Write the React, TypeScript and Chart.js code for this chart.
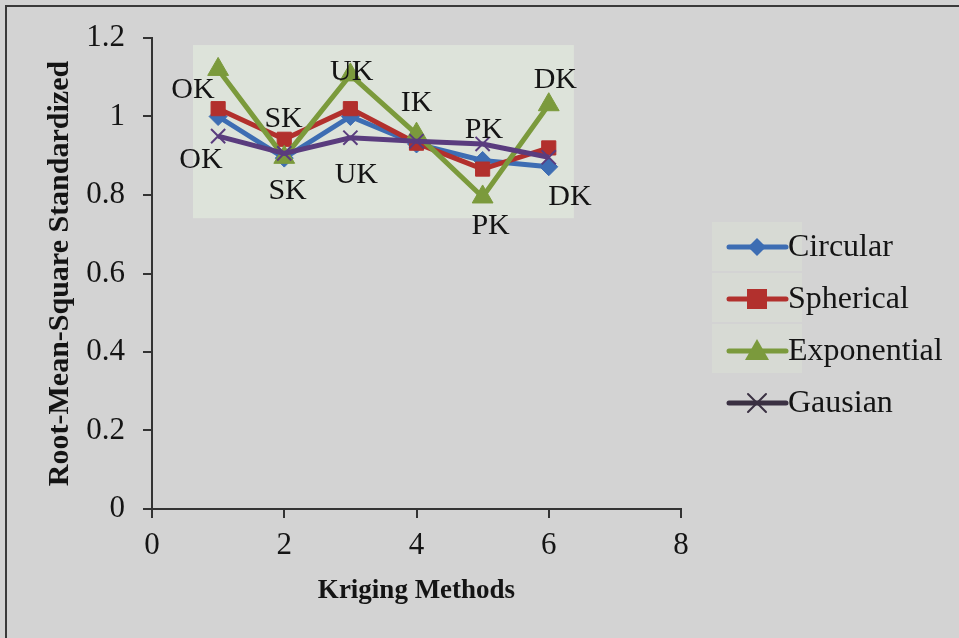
import React, { useEffect, useRef } from "react";
import { Chart, registerables } from "chart.js";

Chart.register(...registerables);

const xValues = [1, 2, 3, 4, 5, 6];
const circular = [1.0, 0.894, 1.0, 0.93, 0.888, 0.872];
const spherical = [1.02, 0.942, 1.02, 0.932, 0.866, 0.92];
const exponential = [1.12, 0.896, 1.106, 0.955, 0.795, 1.03];
const gausian = [0.95, 0.906, 0.946, 0.937, 0.93, 0.896];

const seriesNames = ["Circular", "Spherical", "Exponential", "Gausian"];
const seriesColors = ["#3d6db3", "#b2302d", "#7b9a3c", "#5a3c7e"];
const seriesStyles = ["rectRot", "rect", "triangle", "crossRot"];

const yTicks = [0, 0.2, 0.4, 0.6, 0.8, 1, 1.2];
const xTicks = [0, 2, 4, 6, 8];

const labelTexts = ["OK", "OK", "SK", "SK", "UK", "UK", "IK", "PK", "PK", "DK", "DK"];
const labelXs = [0.62, 0.74, 1.99, 2.05, 3.02, 3.09, 4.0, 5.02, 5.12, 6.1, 6.32];
const labelYs = [1.068, 0.888, 0.993, 0.81, 1.112, 0.85, 1.035, 0.965, 0.72, 1.093, 0.795];

const SERIF = "'Liberation Serif', 'Times New Roman', serif";
const TEXT = "#141414";

function drawMarker(ctx: CanvasRenderingContext2D, style: string, x: number, y: number, color: string) {
  ctx.save();
  ctx.fillStyle = color;
  ctx.strokeStyle = color;
  ctx.beginPath();
  if (style === "rectRot") {
    const r = 9;
    ctx.moveTo(x, y - r); ctx.lineTo(x + r, y); ctx.lineTo(x, y + r); ctx.lineTo(x - r, y); ctx.closePath(); ctx.fill();
  } else if (style === "rect") {
    const r = 10;
    ctx.rect(x - r, y - r, 2 * r, 2 * r); ctx.fill();
  } else if (style === "triangle") {
    const r = 12;
    ctx.moveTo(x, y - r); ctx.lineTo(x + r, y + r * 0.75); ctx.lineTo(x - r, y + r * 0.75); ctx.closePath(); ctx.fill();
  } else {
    const r = 9;
    ctx.lineWidth = 2;
    ctx.moveTo(x - r, y - r); ctx.lineTo(x + r, y + r); ctx.moveTo(x + r, y - r); ctx.lineTo(x - r, y + r); ctx.stroke();
  }
  ctx.restore();
}

const decorPlugin = {
  id: "decor",
  beforeDraw(chart: any) {
    const { ctx, width, height } = chart;
    ctx.save();
    ctx.fillStyle = "#d3d3d3";
    ctx.fillRect(0, 0, width, height);
    ctx.strokeStyle = "#3a3a3a";
    ctx.lineWidth = 2;
    ctx.beginPath();
    ctx.moveTo(6, height);
    ctx.lineTo(6, 6);
    ctx.lineTo(width, 6);
    ctx.stroke();
    // light pasted-image panel behind the lines
    const xs = chart.scales.x;
    const ys = chart.scales.y;
    const x0 = xs.getPixelForValue(0.62);
    const x1 = xs.getPixelForValue(6.38);
    const y0 = ys.getPixelForValue(1.182);
    const y1 = ys.getPixelForValue(0.741);
    ctx.fillStyle = "#dde3da";
    ctx.fillRect(x0, y0, x1 - x0, y1 - y0);
    // faint panels behind legend entries
    ctx.fillStyle = "#d7dad4";
    for (let i = 0; i < 3; i++) {
      ctx.fillRect(712, 222 + i * 51, 90, 49);
    }
    ctx.restore();
  },
  afterDatasetsDraw(chart: any) {
    const { ctx } = chart;
    const xs = chart.scales.x;
    const ys = chart.scales.y;
    ctx.save();
    ctx.fillStyle = TEXT;
    ctx.font = `30px ${SERIF}`;
    ctx.textAlign = "center";
    ctx.textBaseline = "middle";
    labelTexts.forEach((t, i) => {
      ctx.fillText(t, xs.getPixelForValue(labelXs[i]), ys.getPixelForValue(labelYs[i]));
    });
    // legend
    ctx.textAlign = "left";
    ctx.font = `32px ${SERIF}`;
    seriesNames.forEach((name, i) => {
      const y = 247 + i * 52;
      const c = i === 3 ? "#3a3042" : seriesColors[i];
      ctx.strokeStyle = c;
      ctx.lineWidth = 5;
      ctx.lineCap = "round";
      ctx.beginPath();
      ctx.moveTo(729, y);
      ctx.lineTo(786, y);
      ctx.stroke();
      drawMarker(ctx, seriesStyles[i], 757, y, c);
      ctx.fillStyle = TEXT;
      ctx.fillText(name, 788, y + 1);
    });
    ctx.restore();
  },
};

export default function App() {
  const canvasRef = useRef<HTMLCanvasElement | null>(null);

  useEffect(() => {
    if (!canvasRef.current) return;
    const seriesData = [circular, spherical, exponential, gausian];
    const chart = new Chart(canvasRef.current, {
      type: "scatter",
      data: {
        datasets: seriesNames.map((name, i) => ({
          label: name,
          data: xValues.map((x, j) => ({ x, y: seriesData[i][j] })),
          showLine: true,
          borderColor: seriesColors[i],
          backgroundColor: seriesColors[i],
          borderWidth: 5,
          pointStyle: seriesStyles[i] as any,
          pointRadius: i === 0 ? 9 : i === 1 ? 10 : i === 2 ? 12 : 10,
          pointBorderWidth: i === 3 ? 2 : 1,
          order: 4 - i,
        })),
      },
      options: {
        animation: false,
        responsive: false,
        maintainAspectRatio: false,
        layout: { padding: { left: 0, right: 278, top: 38, bottom: 0 } },
        plugins: { legend: { display: false }, tooltip: { enabled: false } },
        scales: {
          x: {
            type: "linear",
            min: 0,
            max: 8,
            afterFit: (s: any) => { s.height = 129; },
            afterBuildTicks: (s: any) => { s.ticks = xTicks.map((v) => ({ value: v })); },
            ticks: { color: TEXT, font: { family: SERIF, size: 31 }, padding: 9 },
            grid: { display: true, drawOnChartArea: false, drawTicks: true, tickLength: 9, color: "#333", lineWidth: 2 },
            border: { display: true, color: "#333", width: 2 },
            title: { display: true, text: "Kriging Methods", color: TEXT, font: { family: SERIF, size: 27, weight: "bold" }, padding: { top: 0, bottom: 31 } },
          },
          y: {
            type: "linear",
            min: 0,
            max: 1.2,
            afterFit: (s: any) => { s.width = 152; },
            afterBuildTicks: (s: any) => { s.ticks = yTicks.map((v) => ({ value: v })); },
            ticks: { color: TEXT, font: { family: SERIF, size: 31 }, padding: 18, callback: (v: any) => String(Math.round(v * 10) / 10) },
            grid: { display: true, drawOnChartArea: false, drawTicks: true, tickLength: 9, color: "#333", lineWidth: 2 },
            border: { display: true, color: "#333", width: 2 },
            title: { display: true, text: "Root-Mean-Square Standardized", color: TEXT, font: { family: SERIF, size: 30, weight: "bold" }, padding: { top: 42, bottom: 0 } },
          },
        },
      },
      plugins: [decorPlugin],
    });
    return () => chart.destroy();
  }, []);

  return (
    <div style={{ position: "fixed", left: 0, top: 0, width: 959, height: 638 }}>
      <canvas ref={canvasRef} width={959} height={638} style={{ display: "block", width: 959, height: 638 }} />
    </div>
  );
}
